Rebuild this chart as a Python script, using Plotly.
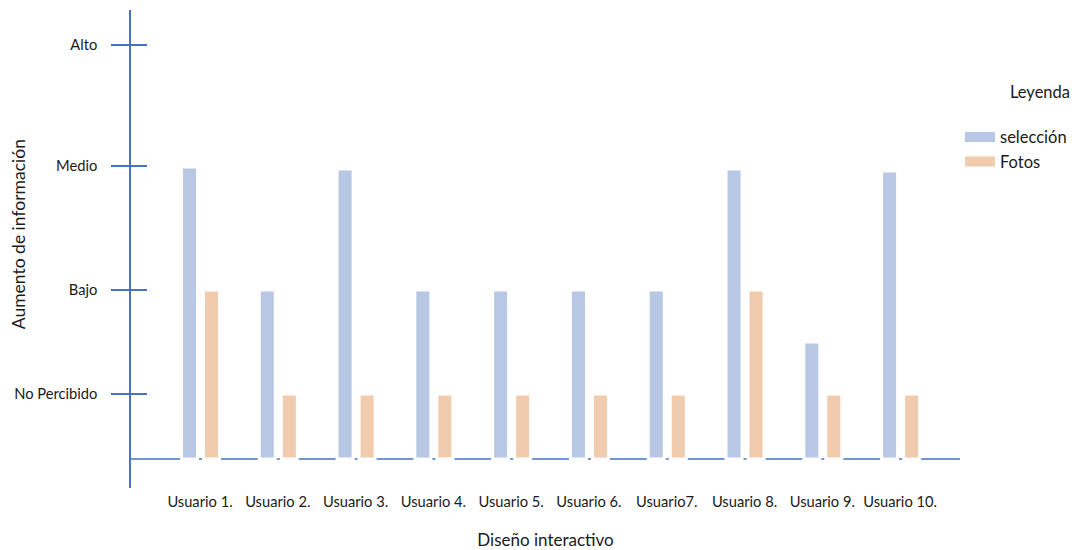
import plotly.graph_objects as go

# Categorías del eje x
usuarios = ["Usuario 1.", "Usuario 2.", "Usuario 3.", "Usuario 4.", "Usuario 5.",
            "Usuario 6.", "Usuario7.", "Usuario 8.", "Usuario 9.", "Usuario 10."]

# Niveles cualitativos del eje y y su posición en la escala
niveles = ["No Percibido", "Bajo", "Medio", "Alto"]
niveles_pos = [0.65, 1.69, 2.93, 4.14]

# Valores por usuario
seleccion = [2.92, 1.69, 2.90, 1.69, 1.69, 1.69, 1.69, 2.90, 1.17, 2.88]
fotos = [1.69, 0.65, 0.65, 0.65, 0.65, 0.65, 0.65, 1.69, 0.65, 0.65]

AZUL = "rgb(183,199,228)"
NARANJA = "rgb(241,203,174)"
EJE = "#4472C4"
FUENTE = "Lato"

fig = go.Figure()

fig.add_trace(go.Bar(
    x=usuarios, y=seleccion, name="selección",
    marker=dict(color=AZUL, line=dict(color="white", width=3)),
    offset=-0.238, width=0.206, showlegend=False,
))
fig.add_trace(go.Bar(
    x=usuarios, y=fotos, name="Fotos",
    marker=dict(color=NARANJA, line=dict(color="white", width=3)),
    offset=0.045, width=0.206, showlegend=False,
))

# Entradas de la leyenda con muestras anchas
for nombre, color in [("selección", AZUL), ("Fotos", NARANJA)]:
    fig.add_trace(go.Scatter(
        x=[None], y=[None], mode="lines", name=nombre,
        line=dict(color=color, width=14), hoverinfo="skip",
    ))

# Línea base del gráfico
fig.add_shape(type="line", xref="paper", yref="y", x0=0, x1=1, y0=0, y1=0,
              line=dict(color=EJE, width=1.5), layer="below")

# Título del eje y
fig.add_annotation(
    text="Aumento de información", textangle=-90,
    xref="paper", yref="paper", x=-0.1363, y=0.531,
    xanchor="center", yanchor="middle", showarrow=False,
    font=dict(size=17.5),
)

fig.update_layout(
    width=1082, height=550,
    margin=dict(l=131, r=122, t=10, b=62, autoexpand=False),
    plot_bgcolor="white", paper_bgcolor="white",
    barmode="overlay",
    font=dict(family=FUENTE, size=14, color="#1a1a1a"),
    xaxis=dict(
        range=[-0.887, 9.77], showgrid=False, zeroline=False, showline=False,
        ticks="", tickfont=dict(size=14.7), ticklabelstandoff=3, automargin=False,
        title=dict(text="Diseño interactivo", font=dict(size=17), standoff=25),
    ),
    yaxis=dict(
        range=[-0.29, 4.49], showgrid=False, zeroline=False, automargin=False,
        showline=True, linecolor=EJE, linewidth=1.5,
        tickvals=niveles_pos, ticktext=niveles,
        ticks="outside", ticklen=18, tickcolor=EJE, tickwidth=1.5,
        tickfont=dict(size=14.7), ticklabelstandoff=11,
    ),
    yaxis2=dict(
        overlaying="y", matches="y", range=[-0.29, 4.49], side="left",
        anchor="x", showgrid=False, zeroline=False, showline=False, automargin=False,
        tickvals=niveles_pos, showticklabels=False,
        ticks="inside", ticklen=16, tickcolor=EJE, tickwidth=1.5,
    ),
    legend=dict(
        x=1.0, xanchor="left", y=0.86, yanchor="top",
        title=dict(text="Leyenda<br> ", side="top right", font=dict(size=16.5)),
        font=dict(size=16.5), itemwidth=30, tracegroupgap=0,
    ),
)

# Eje secundario solo para las marcas interiores
fig.add_trace(go.Scatter(x=[None], y=[None], yaxis="y2", showlegend=False, hoverinfo="skip"))

fig.write_html("out.html")
